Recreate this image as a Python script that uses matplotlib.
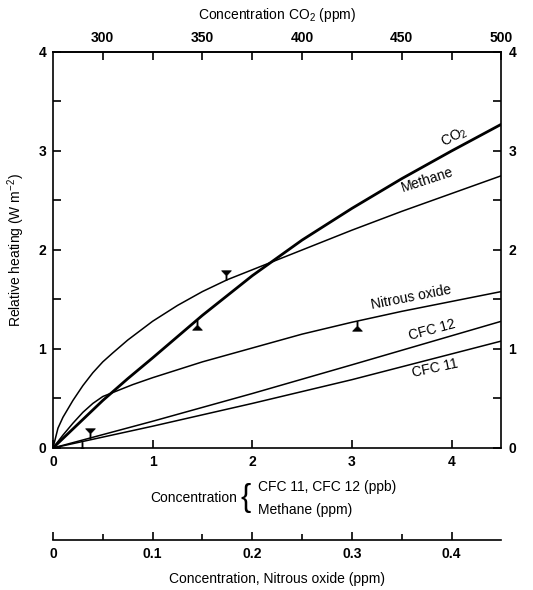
import numpy as np
import matplotlib
matplotlib.use("Agg")
import matplotlib.pyplot as plt
from matplotlib.path import Path
from matplotlib.markers import MarkerStyle

plt.rcParams.update({
    "font.family": ["Liberation Sans", "DejaVu Sans"],
    "font.size": 10,
    "axes.linewidth": 1.2,
    "mathtext.default": "regular",
})

# ── Data (x in main-axis units 0..4.5) ───────────────────────────────
co2_x = [0, 0.25, 0.5, 0.75, 1.0, 1.5, 2.0, 2.5, 3.0, 3.5, 4.0, 4.5]
co2_y = [0, 0.24, 0.48, 0.70, 0.91, 1.34, 1.74, 2.10, 2.42, 2.72, 3.00, 3.27]

ch4_x = [0, 0.05, 0.1, 0.2, 0.3, 0.4, 0.5, 0.6, 0.75, 1.0, 1.25, 1.5, 1.75,
         2.0, 2.5, 3.0, 3.5, 4.0, 4.5]
ch4_y = [0, 0.20, 0.31, 0.48, 0.63, 0.76, 0.87, 0.96, 1.09, 1.28, 1.44, 1.58,
         1.70, 1.80, 2.00, 2.20, 2.39, 2.57, 2.75]

n2o_x = [0, 0.1, 0.2, 0.3, 0.4, 0.5, 0.6, 0.7, 0.8, 1.0, 1.5, 2.0, 2.5, 3.0, 3.5, 4.0, 4.5]
n2o_y = [0, 0.13, 0.25, 0.36, 0.45, 0.52, 0.56, 0.60, 0.64, 0.71, 0.87, 1.01, 1.15, 1.27, 1.38, 1.48, 1.58]

cfc12_x = [0, 1.0, 2.0, 3.0, 4.5]
cfc12_y = [0, 0.27, 0.55, 0.84, 1.28]

cfc11_x = [0, 1.0, 2.0, 3.0, 4.5]
cfc11_y = [0, 0.22, 0.45, 0.69, 1.08]

# present-day markers: (curve, x, side)
mark_curve = ["co2", "ch4", "n2o", "cfc12", "cfc11"]
mark_x = [1.45, 1.74, 3.05, 0.37, 0.29]
mark_side = ["below", "above", "below", "above", "below"]

co2_ticks = [300, 325, 350, 375, 400, 425, 450, 475, 500]
co2_labels = ["300", "", "350", "", "400", "", "450", "", "500"]
n2o_ticks = [0, 0.1, 0.2, 0.3, 0.4]
n2o_labels = ["0", "0.1", "0.2", "0.3", "0.4"]

curves = {
    "co2": (co2_x, co2_y),
    "ch4": (ch4_x, ch4_y),
    "n2o": (n2o_x, n2o_y),
    "cfc12": (cfc12_x, cfc12_y),
    "cfc11": (cfc11_x, cfc11_y),
}

# Y-shaped marker: stem touching the line, triangle away from it
_verts = [(-0.09, 0), (0.09, 0), (0.09, 0.85), (0.8, 1.6), (-0.8, 1.6),
          (-0.09, 0.85), (-0.09, 0)]
_codes = [Path.MOVETO] + [Path.LINETO] * 5 + [Path.CLOSEPOLY]
MARK_ABOVE = MarkerStyle(Path(_verts, _codes))
MARK_BELOW = MarkerStyle(Path([(vx, -vy) for vx, vy in _verts], _codes))

fig = plt.figure(figsize=(5.33, 5.90), dpi=100)
ax = fig.add_axes([0.0994, 0.2407, 0.8412, 0.6712])

ax.plot(co2_x, co2_y, color="black", lw=2.0, solid_capstyle="butt")
for key in ["ch4", "n2o", "cfc12", "cfc11"]:
    xs, ys = curves[key]
    ax.plot(xs, ys, color="black", lw=1.1)

for key, mx, side in zip(mark_curve, mark_x, mark_side):
    xs, ys = curves[key]
    my = np.interp(mx, xs, ys)
    ax.plot(mx, my, linestyle="none", color="black", markersize=14,
            markeredgewidth=0.5,
            marker=MARK_ABOVE if side == "above" else MARK_BELOW)

# curve labels
ax.text(4.03, 3.14, "CO$_2$", rotation=28, ha="center", va="center", fontsize=10)
ax.text(3.76, 2.71, "Methane", rotation=18, ha="center", va="center", fontsize=10)
ax.text(3.6, 1.52, "Nitrous oxide", rotation=11, ha="center", va="center", fontsize=10)
ax.text(3.8, 1.19, "CFC 12", rotation=15, ha="center", va="center", fontsize=10)
ax.text(3.83, 0.81, "CFC 11", rotation=12, ha="center", va="center", fontsize=10)

ax.set_xlim(0, 4.5)
ax.set_ylim(0, 4)
ax.set_xticks([0, 1, 2, 3, 4])
ax.set_yticks(np.arange(0, 4.01, 0.5))
ax.set_yticklabels(["0", "", "1", "", "2", "", "3", "", "4"])
ax.tick_params(axis="both", direction="in", length=6, width=1.2,
               labelsize=10, pad=5)
ax.tick_params(axis="y", right=True, labelright=True)
for lab in ax.get_xticklabels() + ax.get_yticklabels():
    lab.set_fontweight("bold")
ax.set_ylabel("Relative heating (W m$^{-2}$)", fontsize=10, labelpad=8)

# top CO2 axis
sec = ax.secondary_xaxis("top", functions=(lambda x: 275 + 50 * x,
                                           lambda c: (c - 275) / 50))
sec.set_xticks(co2_ticks, labels=co2_labels)
sec.tick_params(direction="in", length=6, width=1.2, labelsize=10, pad=5)
for lab in sec.get_xticklabels():
    lab.set_fontweight("bold")
sec.set_xlabel("Concentration CO$_2$ (ppm)", fontsize=10, labelpad=9)

# bottom composite label
fig.text(0.445, 0.156, "Concentration", ha="right", va="center", fontsize=10)
fig.text(0.452, 0.156, "{", ha="left", va="center", fontsize=22,
         fontweight="light")
fig.text(0.484, 0.175, "CFC 11, CFC 12 (ppb)", ha="left", va="center", fontsize=10)
fig.text(0.484, 0.136, "Methane (ppm)", ha="left", va="center", fontsize=10)

# nitrous oxide axis
ax3 = fig.add_axes([0.0994, 0.0847, 0.8412, 0.0001])
ax3.set_facecolor("none")
for s in ["top", "left", "right"]:
    ax3.spines[s].set_visible(False)
ax3.set_yticks([])
ax3.set_xlim(0, 0.45)
ax3.set_xticks(n2o_ticks, labels=n2o_labels)
ax3.set_xticks([0.05, 0.15, 0.25, 0.35], minor=True)
ax3.tick_params(axis="x", which="major", direction="in", length=6, width=1.2,
                labelsize=10, pad=5)
ax3.tick_params(axis="x", which="minor", direction="in", length=4, width=1.2)
for lab in ax3.get_xticklabels():
    lab.set_fontweight("bold")
ax3.set_xlabel("Concentration, Nitrous oxide (ppm)", fontsize=10, labelpad=8)

fig.savefig("out.png", dpi=100, facecolor="white")
